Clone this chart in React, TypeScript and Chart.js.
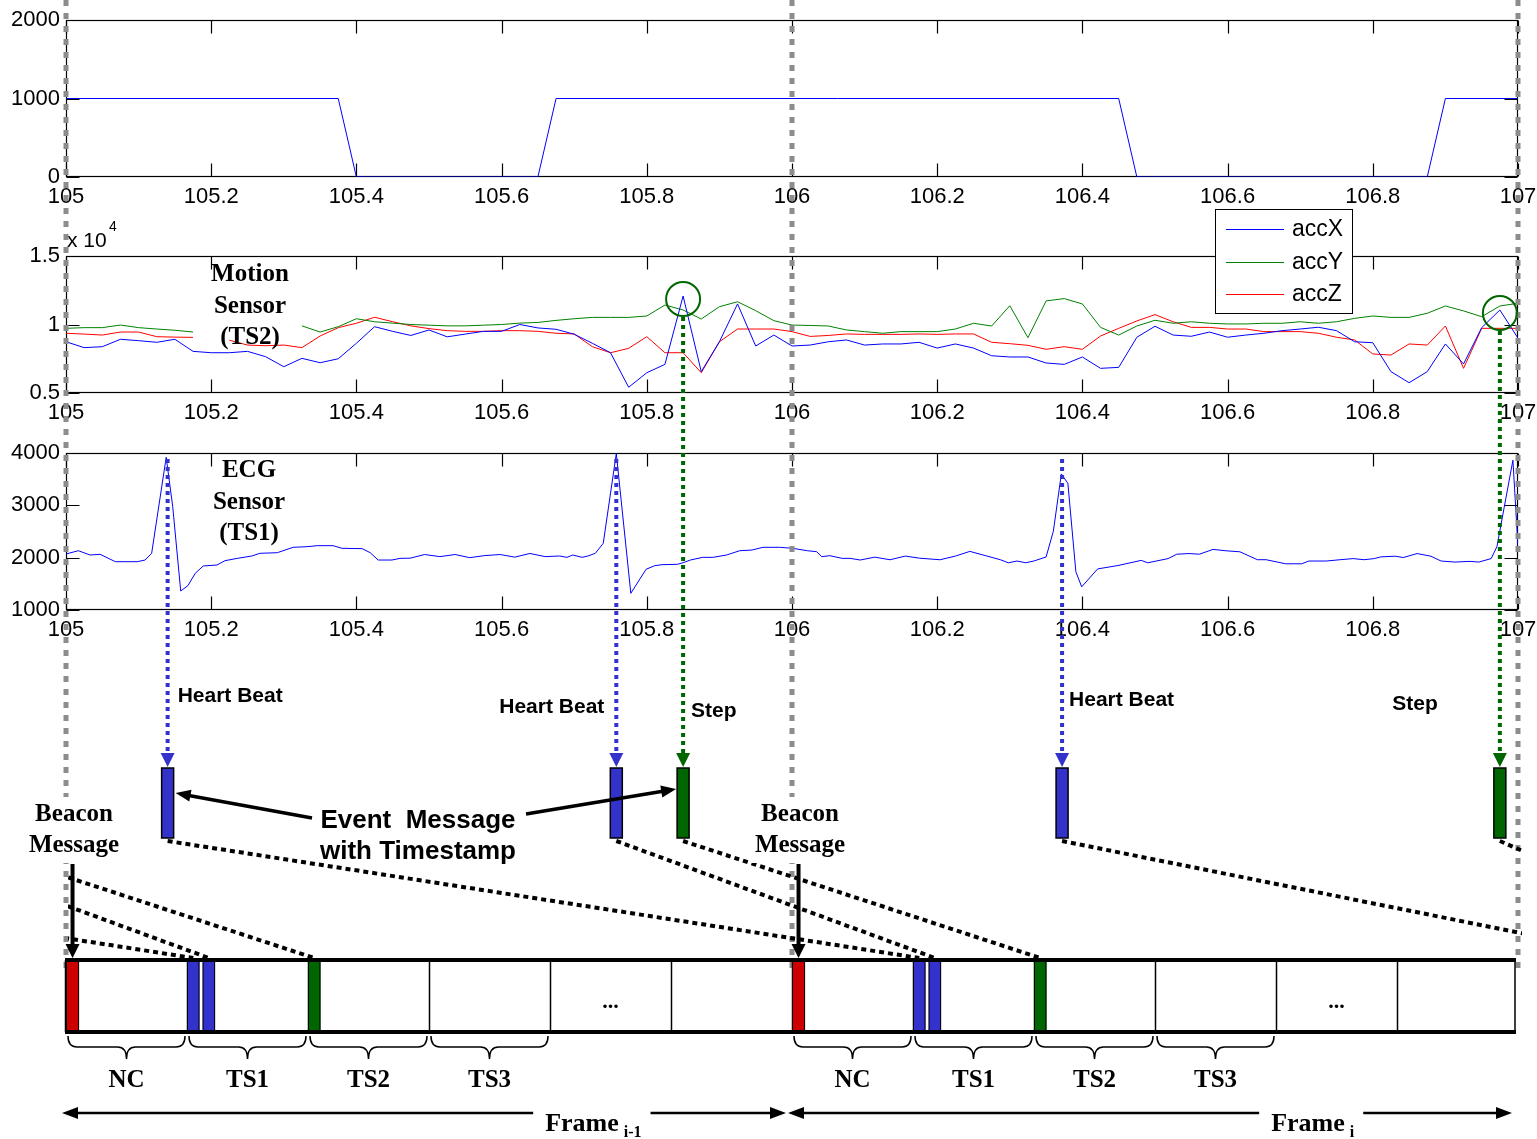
import React, { useEffect, useRef } from 'react';
import { Chart, registerables } from 'chart.js';
Chart.register(...registerables);

// ---------------- data ----------------
const xTickValues = [105, 105.2, 105.4, 105.6, 105.8, 106, 106.2, 106.4, 106.6, 106.8, 107];
const xTickLabels = ['105', '105.2', '105.4', '105.6', '105.8', '106', '106.2', '106.4', '106.6', '106.8', '107'];

// synchronisation (beacon) signal, top panel
const syncTime = [105, 105.375, 105.4, 105.65, 105.675, 106.45, 106.475, 106.875, 106.9, 107];
const syncValue = [1000, 1000, 0, 0, 1000, 1000, 0, 0, 1000, 1000];
const syncTicks = [0, 1000, 2000];
const syncTickLabels = ['0', '1000', '2000'];

// motion sensor (raw counts, axis shown x 10^4)
const accTime = [
  105.000, 105.025, 105.050, 105.075, 105.100, 105.125, 105.150, 105.175, 105.200, 105.225,
  105.250, 105.275, 105.300, 105.325, 105.350, 105.375, 105.400, 105.425, 105.450, 105.475,
  105.500, 105.525, 105.550, 105.575, 105.600, 105.625, 105.650, 105.675, 105.700, 105.725,
  105.750, 105.775, 105.800, 105.825, 105.850, 105.875, 105.900, 105.925, 105.950, 105.975,
  106.000, 106.025, 106.050, 106.075, 106.100, 106.125, 106.150, 106.175, 106.200, 106.225,
  106.250, 106.275, 106.300, 106.325, 106.350, 106.375, 106.400, 106.425, 106.450, 106.475,
  106.500, 106.525, 106.550, 106.575, 106.600, 106.625, 106.650, 106.675, 106.700, 106.725,
  106.750, 106.775, 106.800, 106.825, 106.850, 106.875, 106.900, 106.925, 106.950, 106.975,
  107.000,
];
const accX = [
  8740, 8310, 8380, 8920, 8820, 8700, 8920, 8040, 7940, 7940,
  8040, 7650, 6920, 7530, 7210, 7500, 8630, 9840, 9500, 9200,
  9600, 9100, 9300, 9500, 9500, 10000, 9750, 9650, 9290, 8630,
  7940, 5420, 6480, 7090, 12080, 6560, 8740, 11500, 8430, 9230,
  8430, 8500, 8740, 8870, 8500, 8580, 8580, 8700, 8280, 8580,
  8280, 7720, 7630, 7630, 7190, 7090, 7630, 6800, 6870, 9070,
  9870, 9230, 9140, 9450, 9070, 9230, 9360, 9550, 9670, 9800,
  9550, 8740, 8670, 6560, 5750, 6560, 8580, 7120, 9770, 11060,
  9000,
];
const accY = [
  9720, 9770, 9770, 9960, 9770, 9670, 9580, 9450, null, null,
  null, null, null, 9900, 9450, 9840, 10420, 10200, 10100, 10000,
  9950, 9900, 9900, 9950, 10000, 10100, 10150, 10300, 10420, 10520,
  10520, 10520, 10620, 11420, 11060, 10400, 11300, 11660, 11010, 10280,
  9960, 9930, 9890, 9600, 9480, 9360, 9480, 9480, 9480, 9670,
  10090, 9890, 11370, 9040, 11720, 11890, 11500, 9790, 9230, 9890,
  10310, 10090, 10200, 10090, 10040, 10040, 10090, 10090, 10200, 10090,
  10200, 10450, 10620, 10520, 10520, 10820, 11350, 10990, 10570, 11350,
  11550,
];
const accZ = [
  9360, 9300, 9230, 9450, 9450, 9110, 9080, 9060, null, 8850,
  8500, 8450, 8500, 8310, 9160, 9770, 10090, 10530, 10200, 9900,
  9700, 9550, 9500, 9500, 9550, 9550, 9500, 9360, 9310, 8380,
  7940, 8260, 9110, 7940, 7940, 6480, 8740, 9670, 9670, 9670,
  9480, 9130, 9200, 9310, 9280, 9280, 9280, 9310, 9280, 9310,
  9310, 8700, 8600, 8480, 8190, 8380, 8190, 9160, 9720, 10260,
  10720, 10200, 9790, 9790, 9670, 9670, 9480, 9480, 9480, 9360,
  9070, 8870, 7850, 7770, 8580, 8500, 9890, 6800, 9720, 9720,
  9720,
];
const accSeriesNames = ['accX', 'accY', 'accZ'];
const accTicks = [5000, 10000, 15000];
const accTickLabels = ['0.5', '1', '1.5'];

// ECG sensor
const ecgTime = [
  105.000, 105.017, 105.033, 105.047, 105.068, 105.098, 105.109, 105.118, 105.138, 105.147,
  105.158, 105.168, 105.178, 105.189, 105.208, 105.219, 105.236, 105.256, 105.267, 105.291,
  105.313, 105.332, 105.346, 105.368, 105.380, 105.408, 105.419, 105.430, 105.449, 105.460,
  105.474, 105.494, 105.515, 105.536, 105.556, 105.577, 105.598, 105.618, 105.639, 105.660,
  105.680, 105.690, 105.698, 105.711, 105.719, 105.729, 105.740, 105.758, 105.778, 105.799,
  105.811, 105.821, 105.842, 105.850, 105.860, 105.877, 105.891, 105.910, 105.928, 105.945,
  105.960, 105.983, 106.001, 106.021, 106.034, 106.041, 106.052, 106.069, 106.080, 106.094,
  106.114, 106.135, 106.156, 106.176, 106.204, 106.225, 106.245, 106.266, 106.287, 106.298,
  106.310, 106.322, 106.333, 106.350, 106.360, 106.371, 106.380, 106.391, 106.399, 106.421,
  106.449, 106.481, 106.490, 106.518, 106.530, 106.547, 106.561, 106.580, 106.598, 106.617,
  106.641, 106.653, 106.680, 106.702, 106.712, 106.736, 106.755, 106.773, 106.788, 106.802,
  106.811, 106.831, 106.842, 106.861, 106.880, 106.894, 106.913, 106.934, 106.946, 106.963,
  106.971, 106.981, 106.993, 107.000,
];
const ecgValue = [
  2070, 2133, 2051, 2064, 1923, 1923, 1955, 2083, 3918, 2974,
  1363, 1466, 1701, 1841, 1860, 1942, 1987, 2032, 2083, 2095,
  2198, 2210, 2229, 2229, 2179, 2172, 2095, 1955, 1955, 1987,
  1990, 2060, 2020, 2060, 2000, 2040, 2060, 2010, 2080, 2020,
  2032, 2006, 2051, 2006, 2032, 2083, 2274, 3990, 1319, 1778,
  1847, 1866, 1873, 1904, 1955, 2006, 2006, 2051, 2133, 2146,
  2198, 2198, 2179, 2133, 2114, 2019, 2038, 1987, 1987, 1955,
  2010, 1960, 2030, 1990, 1960, 2030, 2120, 2040, 1961, 1902,
  1936, 1902, 1936, 2013, 2506, 3600, 3420, 1731, 1443, 1785,
  1850, 1948, 1902, 1982, 2066, 2079, 2066, 2158, 2131, 2112,
  1961, 1961, 1883, 1883, 1936, 1936, 1961, 1982, 1961, 1982,
  2015, 2028, 2002, 2079, 2028, 1936, 1916, 1929, 1916, 1982,
  2211, 2964, 3862, 2200,
];
const ecgTicks = [1000, 2000, 3000, 4000];
const ecgTickLabels = ['1000', '2000', '3000', '4000'];

// detected events
const eventTimes = [105.140, 105.758, 105.850, 106.372, 106.975];
const eventKinds = ['hb', 'hb', 'step', 'hb', 'step'];
const eventLabels = ['Heart Beat', 'Heart Beat', 'Step', 'Heart Beat', 'Step'];
// events of the frame before (reported in frame i-1)
const prevFrameEventTimes = [104.140, 104.758, 104.850];
const prevFrameEventKinds = ['hb', 'hb', 'step'];

// superframe structure
const frameStarts = [105, 106];
const frameBoundaries = [105, 106, 107];
const frameSubscripts = ['i-1', 'i'];
const slotsPerFrame = 6;
const bracedSlotNames = ['NC', 'TS1', 'TS2', 'TS3'];
const ellipsisSlot = 4;

// ---------------- layout / style ----------------
const W = 1537, H = 1139;
const PLOT_LEFT = 66, PLOT_RIGHT = 1518;
const PANELS = [
  { top: 0, height: 205, padTop: 20, xAxisH: 28 },
  { top: 205, height: 218, padTop: 51, xAxisH: 30 },
  { top: 423, height: 217, padTop: 30, xAxisH: 30 },
];
const SANS = '"Liberation Sans", Arial, Helvetica, sans-serif';
const SERIF = '"Liberation Serif", "Times New Roman", serif';
const tickFont = { family: SANS, size: 22 };

const GRAY = '#8c8c8c';
const HB_COLOR = '#3333cc';
const STEP_COLOR = '#006600';
const BEACON_COLOR = '#cc0000';

const EVT_BOX_TOP = 768, EVT_BOX_BOTTOM = 838, EVT_BOX_HALF = 6;
const FRAME_TOP = 960, FRAME_BOTTOM = 1032;
const BRACE_TOP = 1036, BRACE_MID = 1047, BRACE_TIP = 1059, SLOT_LABEL_Y = 1081;
const FRAME_ARROW_Y = 1113;
const GUIDE_BOTTOM = 968;
const BEACON_W = 0.018, MARK_W = 0.0172, MARK_PITCH = 0.0215;
const labelLayout = [
  { dx: 10, align: 'left', y: 696 },
  { dx: -12, align: 'right', y: 707 },
  { dx: 8, align: 'left', y: 711 },
  { dx: 7, align: 'left', y: 700 },
  { dx: -62, align: 'right', y: 704 },
];
const LEG = { x: 1215, y: 209, w: 137, h: 104, first: 20, row: 32.5 };

// ---------------- helpers ----------------
const axesBox = {
  id: 'axesBox',
  beforeDatasetsDraw(chart: any) {
    const { ctx, chartArea: a } = chart;
    const sx = chart.scales.x, sy = chart.scales.y;
    const L = Math.round(a.left) + 0.5, R = Math.round(a.right) - 0.5;
    const T = Math.round(a.top) + 0.5, B = Math.round(a.bottom) - 0.5;
    ctx.save();
    ctx.strokeStyle = '#000';
    ctx.lineWidth = 1.2;
    ctx.strokeRect(L, T, R - L, B - T);
    const TL = 13;
    ctx.beginPath();
    sx.ticks.forEach((t: any) => {
      const p = Math.round(sx.getPixelForValue(t.value)) + 0.5;
      ctx.moveTo(p, B); ctx.lineTo(p, B - TL);
      ctx.moveTo(p, T); ctx.lineTo(p, T + TL);
    });
    sy.ticks.forEach((t: any) => {
      const p = Math.round(sy.getPixelForValue(t.value)) + 0.5;
      ctx.moveTo(L, p); ctx.lineTo(L + TL, p);
      ctx.moveTo(R, p); ctx.lineTo(R - TL, p);
    });
    ctx.stroke();
    ctx.restore();
  },
};

function makeLineChart(canvas: any, panel: any, datasets: any[], yMin: number, yMax: number,
  yTicks: number[], yTickLabels: string[], extra: any[]) {
  return new Chart(canvas, {
    type: 'line',
    data: { datasets },
    options: {
      responsive: false,
      animation: false,
      events: [],
      layout: { padding: { left: 0, right: W - PLOT_RIGHT, top: panel.padTop, bottom: 0 } },
      plugins: { legend: { display: false }, tooltip: { enabled: false } },
      elements: { point: { radius: 0 }, line: { tension: 0, borderWidth: 1 } },
      scales: {
        x: {
          type: 'linear', min: 105, max: 107,
          afterBuildTicks: (s: any) => { s.ticks = xTickValues.map((v) => ({ value: v })); },
          afterFit: (s: any) => { s.height = panel.xAxisH; s.paddingLeft = 0; s.paddingRight = 0; },
          grid: { display: false, drawTicks: false },
          border: { display: false },
          ticks: {
            autoSkip: false, maxRotation: 0, minRotation: 0, padding: 7, color: '#000', font: tickFont,
            callback: (_v: any, i: number) => xTickLabels[i],
          },
        },
        y: {
          type: 'linear', min: yMin, max: yMax,
          afterBuildTicks: (s: any) => { s.ticks = yTicks.map((v) => ({ value: v })); },
          afterFit: (s: any) => { s.width = PLOT_LEFT; s.paddingTop = 0; s.paddingBottom = 0; },
          grid: { display: false, drawTicks: false },
          border: { display: false },
          ticks: { padding: 6, color: '#000', font: tickFont, callback: (_v: any, i: number) => yTickLabels[i] },
        },
      },
    } as any,
    plugins: [axesBox, ...extra],
  } as any);
}

function stackedText(ctx: any, lines: string[], cx: number, ys: number[], font: string) {
  ctx.save();
  ctx.font = font;
  ctx.fillStyle = '#000';
  ctx.textAlign = 'center';
  ctx.textBaseline = 'middle';
  lines.forEach((l, i) => ctx.fillText(l, cx, ys[i]));
  ctx.restore();
}

function arrowHead(ctx: any, x0: number, y0: number, x1: number, y1: number, len: number, half: number, color: string) {
  const a = Math.atan2(y1 - y0, x1 - x0);
  const c = Math.cos(a), s = Math.sin(a);
  ctx.beginPath();
  ctx.moveTo(x1, y1);
  ctx.lineTo(x1 - len * c + half * s, y1 - len * s - half * c);
  ctx.lineTo(x1 - len * c - half * s, y1 - len * s + half * c);
  ctx.closePath();
  ctx.fillStyle = color;
  ctx.fill();
}

function solidArrow(ctx: any, x0: number, y0: number, x1: number, y1: number, lw: number, len: number, half: number, color: string, both = false) {
  const a = Math.atan2(y1 - y0, x1 - x0);
  const c = Math.cos(a), s = Math.sin(a);
  ctx.save();
  ctx.strokeStyle = color;
  ctx.lineWidth = lw;
  ctx.setLineDash([]);
  ctx.beginPath();
  ctx.moveTo(both ? x0 + len * 0.8 * c : x0, both ? y0 + len * 0.8 * s : y0);
  ctx.lineTo(x1 - len * 0.8 * c, y1 - len * 0.8 * s);
  ctx.stroke();
  arrowHead(ctx, x0, y0, x1, y1, len, half, color);
  if (both) arrowHead(ctx, x1, y1, x0, y0, len, half, color);
  ctx.restore();
}

function dotted(ctx: any, x0: number, y0: number, x1: number, y1: number, color: string, lw: number, dash: number[]) {
  ctx.save();
  ctx.strokeStyle = color;
  ctx.lineWidth = lw;
  ctx.setLineDash(dash);
  ctx.lineCap = 'butt';
  ctx.beginPath();
  ctx.moveTo(x0, y0);
  ctx.lineTo(x1, y1);
  ctx.stroke();
  ctx.restore();
}

function brace(ctx: any, x0: number, x1: number) {
  const m = (x0 + x1) / 2, r = 9;
  ctx.beginPath();
  ctx.moveTo(x0, BRACE_TOP);
  ctx.quadraticCurveTo(x0, BRACE_MID, x0 + r, BRACE_MID);
  ctx.lineTo(m - r, BRACE_MID);
  ctx.quadraticCurveTo(m, BRACE_MID, m, BRACE_TIP);
  ctx.quadraticCurveTo(m, BRACE_MID, m + r, BRACE_MID);
  ctx.lineTo(x1 - r, BRACE_MID);
  ctx.quadraticCurveTo(x1, BRACE_MID, x1, BRACE_TOP);
  ctx.stroke();
}

const allEvents = [
  ...prevFrameEventTimes.map((t, i) => ({ t, kind: prevFrameEventKinds[i] })),
  ...eventTimes.map((t, i) => ({ t, kind: eventKinds[i] })),
];

function markersFor(F: number) {
  const list: any[] = [{ t0: F, t1: F + BEACON_W, color: BEACON_COLOR, ev: null }];
  let nh = 0, ns = 0;
  allEvents.filter((e) => e.t >= F - 1 && e.t < F).forEach((e) => {
    if (e.kind === 'hb') {
      const s = F + 1 / slotsPerFrame + nh * MARK_PITCH;
      list.push({ t0: s, t1: s + MARK_W, color: HB_COLOR, ev: e });
      nh++;
    } else {
      const s = F + 2 / slotsPerFrame + ns * MARK_PITCH;
      list.push({ t0: s, t1: s + MARK_W, color: STEP_COLOR, ev: e });
      ns++;
    }
  });
  return list;
}

function drawOverlay(chart: any, mid: any, ecg: any) {
  const ctx = chart.ctx;
  const X = (v: number) => chart.scales.x.getPixelForValue(v);
  ctx.save();

  // frame boundary guides
  ctx.strokeStyle = GRAY;
  ctx.lineWidth = 5;
  ctx.setLineDash([6, 7]);
  frameBoundaries.forEach((b) => {
    ctx.beginPath();
    ctx.moveTo(X(b), 0);
    ctx.lineTo(X(b), GUIDE_BOTTOM);
    ctx.stroke();
  });
  ctx.setLineDash([]);

  // dotted links from events to the slots of the following frame
  ctx.save();
  ctx.beginPath();
  ctx.rect(68, 0, X(107) + 4 - 68, H);
  ctx.clip();
  frameBoundaries.forEach((F) => {
    markersFor(F).forEach((m) => {
      if (!m.ev) return;
      dotted(ctx, X(m.ev.t), EVT_BOX_BOTTOM + 3, X((m.t0 + m.t1) / 2), FRAME_TOP - 2, '#000', 4, [5, 4]);
    });
  });
  ctx.restore();

  // frames
  const fx0 = X(frameBoundaries[0]);
  const fx1 = X(frameBoundaries[frameBoundaries.length - 1]) - 3;
  ctx.strokeStyle = '#000';
  ctx.lineWidth = 1.5;
  frameStarts.forEach((F) => {
    for (let k = 0; k < slotsPerFrame; k++) {
      const x = Math.round(X(F + k / slotsPerFrame)) + 0.5;
      ctx.beginPath(); ctx.moveTo(x, FRAME_TOP); ctx.lineTo(x, FRAME_BOTTOM); ctx.stroke();
    }
  });
  ctx.beginPath(); ctx.moveTo(fx1, FRAME_TOP); ctx.lineTo(fx1, FRAME_BOTTOM); ctx.stroke();
  ctx.lineWidth = 2.5;
  ctx.beginPath(); ctx.moveTo(fx0, FRAME_TOP); ctx.lineTo(fx0, FRAME_BOTTOM); ctx.stroke();
  frameStarts.forEach((F) => {
    markersFor(F).forEach((m) => {
      const a = X(m.t0), b = X(m.t1);
      ctx.fillStyle = m.color;
      ctx.fillRect(a, FRAME_TOP, b - a, FRAME_BOTTOM - FRAME_TOP);
      ctx.lineWidth = 1;
      ctx.strokeStyle = '#000';
      ctx.strokeRect(a + 0.5, FRAME_TOP, b - a - 1, FRAME_BOTTOM - FRAME_TOP);
    });
  });
  ctx.strokeStyle = '#000';
  ctx.lineWidth = 4;
  ctx.beginPath();
  ctx.moveTo(fx0 - 1, FRAME_TOP); ctx.lineTo(fx1 + 1, FRAME_TOP);
  ctx.moveTo(fx0 - 1, FRAME_BOTTOM); ctx.lineTo(fx1 + 1, FRAME_BOTTOM);
  ctx.stroke();

  // slot labels, braces, ellipsis
  ctx.lineWidth = 1.5;
  frameStarts.forEach((F) => {
    bracedSlotNames.forEach((name, k) => {
      const a = X(F + k / slotsPerFrame) + 2, b = X(F + (k + 1) / slotsPerFrame) - 2;
      brace(ctx, a, b);
      ctx.fillStyle = '#000';
      ctx.font = `bold 25px ${SERIF}`;
      ctx.textAlign = 'center';
      ctx.textBaseline = 'middle';
      ctx.fillText(name, (a + b) / 2, SLOT_LABEL_Y);
    });
    ctx.font = `bold 22px ${SERIF}`;
    ctx.textBaseline = 'alphabetic';
    ctx.fillText('...', X(F + (ellipsisSlot + 0.5) / slotsPerFrame), 1008);
  });

  // frame arrows
  frameStarts.forEach((F, i) => {
    const a = X(F) - 4, b = X(F + 1) - 6;
    solidArrow(ctx, a, FRAME_ARROW_Y, b, FRAME_ARROW_Y, 2.5, 16, 6, '#000', true);
    const lx = X(F + 0.66);
    ctx.font = `bold 26px ${SERIF}`;
    const w1 = ctx.measureText('Frame').width;
    ctx.font = `bold 16px ${SERIF}`;
    const w2 = ctx.measureText(frameSubscripts[i]).width;
    ctx.fillStyle = '#fff';
    ctx.fillRect(lx - 12, FRAME_ARROW_Y - 8, w1 + w2 + 26, 30);
    ctx.fillStyle = '#000';
    ctx.textAlign = 'left';
    ctx.textBaseline = 'alphabetic';
    ctx.font = `bold 26px ${SERIF}`;
    ctx.fillText('Frame', lx, 1131);
    ctx.font = `bold 16px ${SERIF}`;
    ctx.fillText(frameSubscripts[i], lx + w1 + 5, 1137);
  });

  // events: circles, vertical arrows, boxes, labels
  const ecgTop = PANELS[2].top + ecg.chartArea.top;
  eventTimes.forEach((t, i) => {
    const x = X(t);
    const col = eventKinds[i] === 'hb' ? HB_COLOR : STEP_COLOR;
    let y0 = ecgTop + 6;
    if (eventKinds[i] === 'step') {
      let best = 0;
      accTime.forEach((at, k) => { if (Math.abs(at - t) < Math.abs(accTime[best] - t)) best = k; });
      const cy = PANELS[1].top + mid.scales.y.getPixelForValue(accX[best]) + 3;
      const cx = mid.scales.x.getPixelForValue(accTime[best]);
      ctx.strokeStyle = STEP_COLOR;
      ctx.lineWidth = 2;
      ctx.beginPath();
      ctx.arc(cx, cy, 17, 0, Math.PI * 2);
      ctx.stroke();
      y0 = cy + 18;
    }
    dotted(ctx, x, y0, x, EVT_BOX_TOP - 12, col, 4, [4, 4]);
    arrowHead(ctx, x, EVT_BOX_TOP - 20, x, EVT_BOX_TOP - 1, 14, 7, col);
    ctx.fillStyle = col;
    ctx.fillRect(x - EVT_BOX_HALF, EVT_BOX_TOP, EVT_BOX_HALF * 2, EVT_BOX_BOTTOM - EVT_BOX_TOP);
    ctx.strokeStyle = '#000';
    ctx.lineWidth = 1.5;
    ctx.strokeRect(x - EVT_BOX_HALF, EVT_BOX_TOP, EVT_BOX_HALF * 2, EVT_BOX_BOTTOM - EVT_BOX_TOP);
    const L = labelLayout[i];
    ctx.fillStyle = '#000';
    ctx.font = `bold 21px ${SANS}`;
    ctx.textAlign = L.align;
    ctx.textBaseline = 'middle';
    ctx.fillText(eventLabels[i], x + L.dx, L.y);
  });

  // beacon messages
  frameStarts.forEach((F) => {
    const cx = X(F) + 8;
    ctx.font = `bold 25px ${SERIF}`;
    const w = ctx.measureText('Message').width;
    ctx.fillStyle = '#fff';
    ctx.fillRect(cx - w / 2 - 4, 797, w + 8, 66);
    ctx.fillStyle = '#000';
    ctx.textAlign = 'center';
    ctx.textBaseline = 'middle';
    ctx.fillText('Beacon', cx, 815);
    ctx.fillText('Message', cx, 846);
    const ax = X(F + BEACON_W / 2);
    solidArrow(ctx, ax, 864, ax, FRAME_TOP - 2, 4, 14, 7, '#000');
  });

  // event message annotation
  ctx.fillStyle = '#000';
  ctx.font = `bold 26px ${SANS}`;
  ctx.textAlign = 'center';
  ctx.textBaseline = 'middle';
  ctx.fillText('Event  Message', 418, 821);
  ctx.fillText('with Timestamp', 418, 852);
  solidArrow(ctx, 312, 818, X(eventTimes[0]) + EVT_BOX_HALF + 2, 793, 3.5, 15, 6, '#000');
  solidArrow(ctx, 526, 814, X(eventTimes[2]) - EVT_BOX_HALF - 1, 789, 3.5, 15, 6, '#000');

  ctx.restore();
}

// ---------------- component ----------------
export default function App() {
  const topRef = useRef<HTMLCanvasElement>(null);
  const midRef = useRef<HTMLCanvasElement>(null);
  const ecgRef = useRef<HTMLCanvasElement>(null);
  const ovRef = useRef<HTMLCanvasElement>(null);

  useEffect(() => {
    const topChart = makeLineChart(topRef.current, PANELS[0], [
      { label: 'sync', data: syncTime.map((t, i) => ({ x: t, y: syncValue[i] })), borderColor: '#0000ff', borderWidth: 1 },
    ], 0, 2000, syncTicks, syncTickLabels, []);

    const midDecor = {
      id: 'midDecor',
      afterDraw(chart: any) {
        const ctx = chart.ctx;
        const top = PANELS[1].top;
        ctx.save();
        ctx.fillStyle = '#000';
        ctx.font = `21px ${SANS}`;
        ctx.textAlign = 'left';
        ctx.textBaseline = 'alphabetic';
        ctx.fillText('x 10', 67, 247 - top);
        ctx.font = `14px ${SANS}`;
        ctx.fillText('4', 109, 231 - top);
        ctx.restore();
        stackedText(ctx, ['Motion', 'Sensor', '(TS2)'], 250, [275 - top, 307 - top, 338 - top], `bold 25px ${SERIF}`);
        ctx.save();
        ctx.fillStyle = '#fff';
        ctx.fillRect(LEG.x, LEG.y - top, LEG.w, LEG.h);
        ctx.strokeStyle = '#000';
        ctx.lineWidth = 1;
        ctx.strokeRect(LEG.x + 0.5, LEG.y - top + 0.5, LEG.w, LEG.h);
        chart.data.datasets.forEach((ds: any, i: number) => {
          const y = Math.round(LEG.y - top + LEG.first + i * LEG.row) + 0.5;
          ctx.strokeStyle = ds.borderColor;
          ctx.beginPath();
          ctx.moveTo(LEG.x + 11, y);
          ctx.lineTo(LEG.x + 69, y);
          ctx.stroke();
          ctx.fillStyle = '#000';
          ctx.font = `23px ${SANS}`;
          ctx.textBaseline = 'middle';
          ctx.fillText(ds.label, LEG.x + 77, y);
        });
        ctx.restore();
      },
    };
    const accColors = ['#0000ff', '#008000', '#ff0000'];
    const midChart = makeLineChart(midRef.current, PANELS[1], [accX, accY, accZ].map((arr, j) => ({
      label: accSeriesNames[j],
      data: accTime.map((t, i) => ({ x: t, y: arr[i] })),
      borderColor: accColors[j],
      borderWidth: 1,
      spanGaps: false,
    })), 5000, 15000, accTicks, accTickLabels, [midDecor]);

    const ecgDecor = {
      id: 'ecgDecor',
      afterDraw(chart: any) {
        const top = PANELS[2].top;
        stackedText(chart.ctx, ['ECG', 'Sensor', '(TS1)'], 249, [471 - top, 503 - top, 534 - top], `bold 25px ${SERIF}`);
      },
    };
    const ecgChart = makeLineChart(ecgRef.current, PANELS[2], [
      { label: 'ECG', data: ecgTime.map((t, i) => ({ x: t, y: ecgValue[i] })), borderColor: '#0000ff', borderWidth: 1 },
    ], 1000, 4000, ecgTicks, ecgTickLabels, [ecgDecor]);

    const overlay = new Chart(ovRef.current as any, {
      type: 'line',
      data: { datasets: [] },
      options: {
        responsive: false,
        animation: false,
        events: [],
        layout: { padding: { left: PLOT_LEFT, right: W - PLOT_RIGHT, top: 0, bottom: 0 } },
        plugins: { legend: { display: false }, tooltip: { enabled: false } },
        scales: {
          x: { type: 'linear', min: 105, max: 107, display: false },
          y: { type: 'linear', min: 0, max: H, reverse: true, display: false },
        },
      } as any,
      plugins: [{ id: 'overlayDraw', afterDraw: (c: any) => drawOverlay(c, midChart, ecgChart) }],
    } as any);

    return () => {
      overlay.destroy();
      ecgChart.destroy();
      midChart.destroy();
      topChart.destroy();
    };
  }, []);

  return (
    <div style={{ position: 'absolute', left: 0, top: 0, width: W, height: H, background: '#fff', overflow: 'hidden' }}>
      <canvas ref={topRef} width={W} height={PANELS[0].height}
        style={{ position: 'absolute', left: 0, top: PANELS[0].top, display: 'block' }} />
      <canvas ref={midRef} width={W} height={PANELS[1].height}
        style={{ position: 'absolute', left: 0, top: PANELS[1].top, display: 'block' }} />
      <canvas ref={ecgRef} width={W} height={PANELS[2].height}
        style={{ position: 'absolute', left: 0, top: PANELS[2].top, display: 'block' }} />
      <canvas ref={ovRef} width={W} height={H}
        style={{ position: 'absolute', left: 0, top: 0, display: 'block', zIndex: 2, pointerEvents: 'none' }} />
    </div>
  );
}
